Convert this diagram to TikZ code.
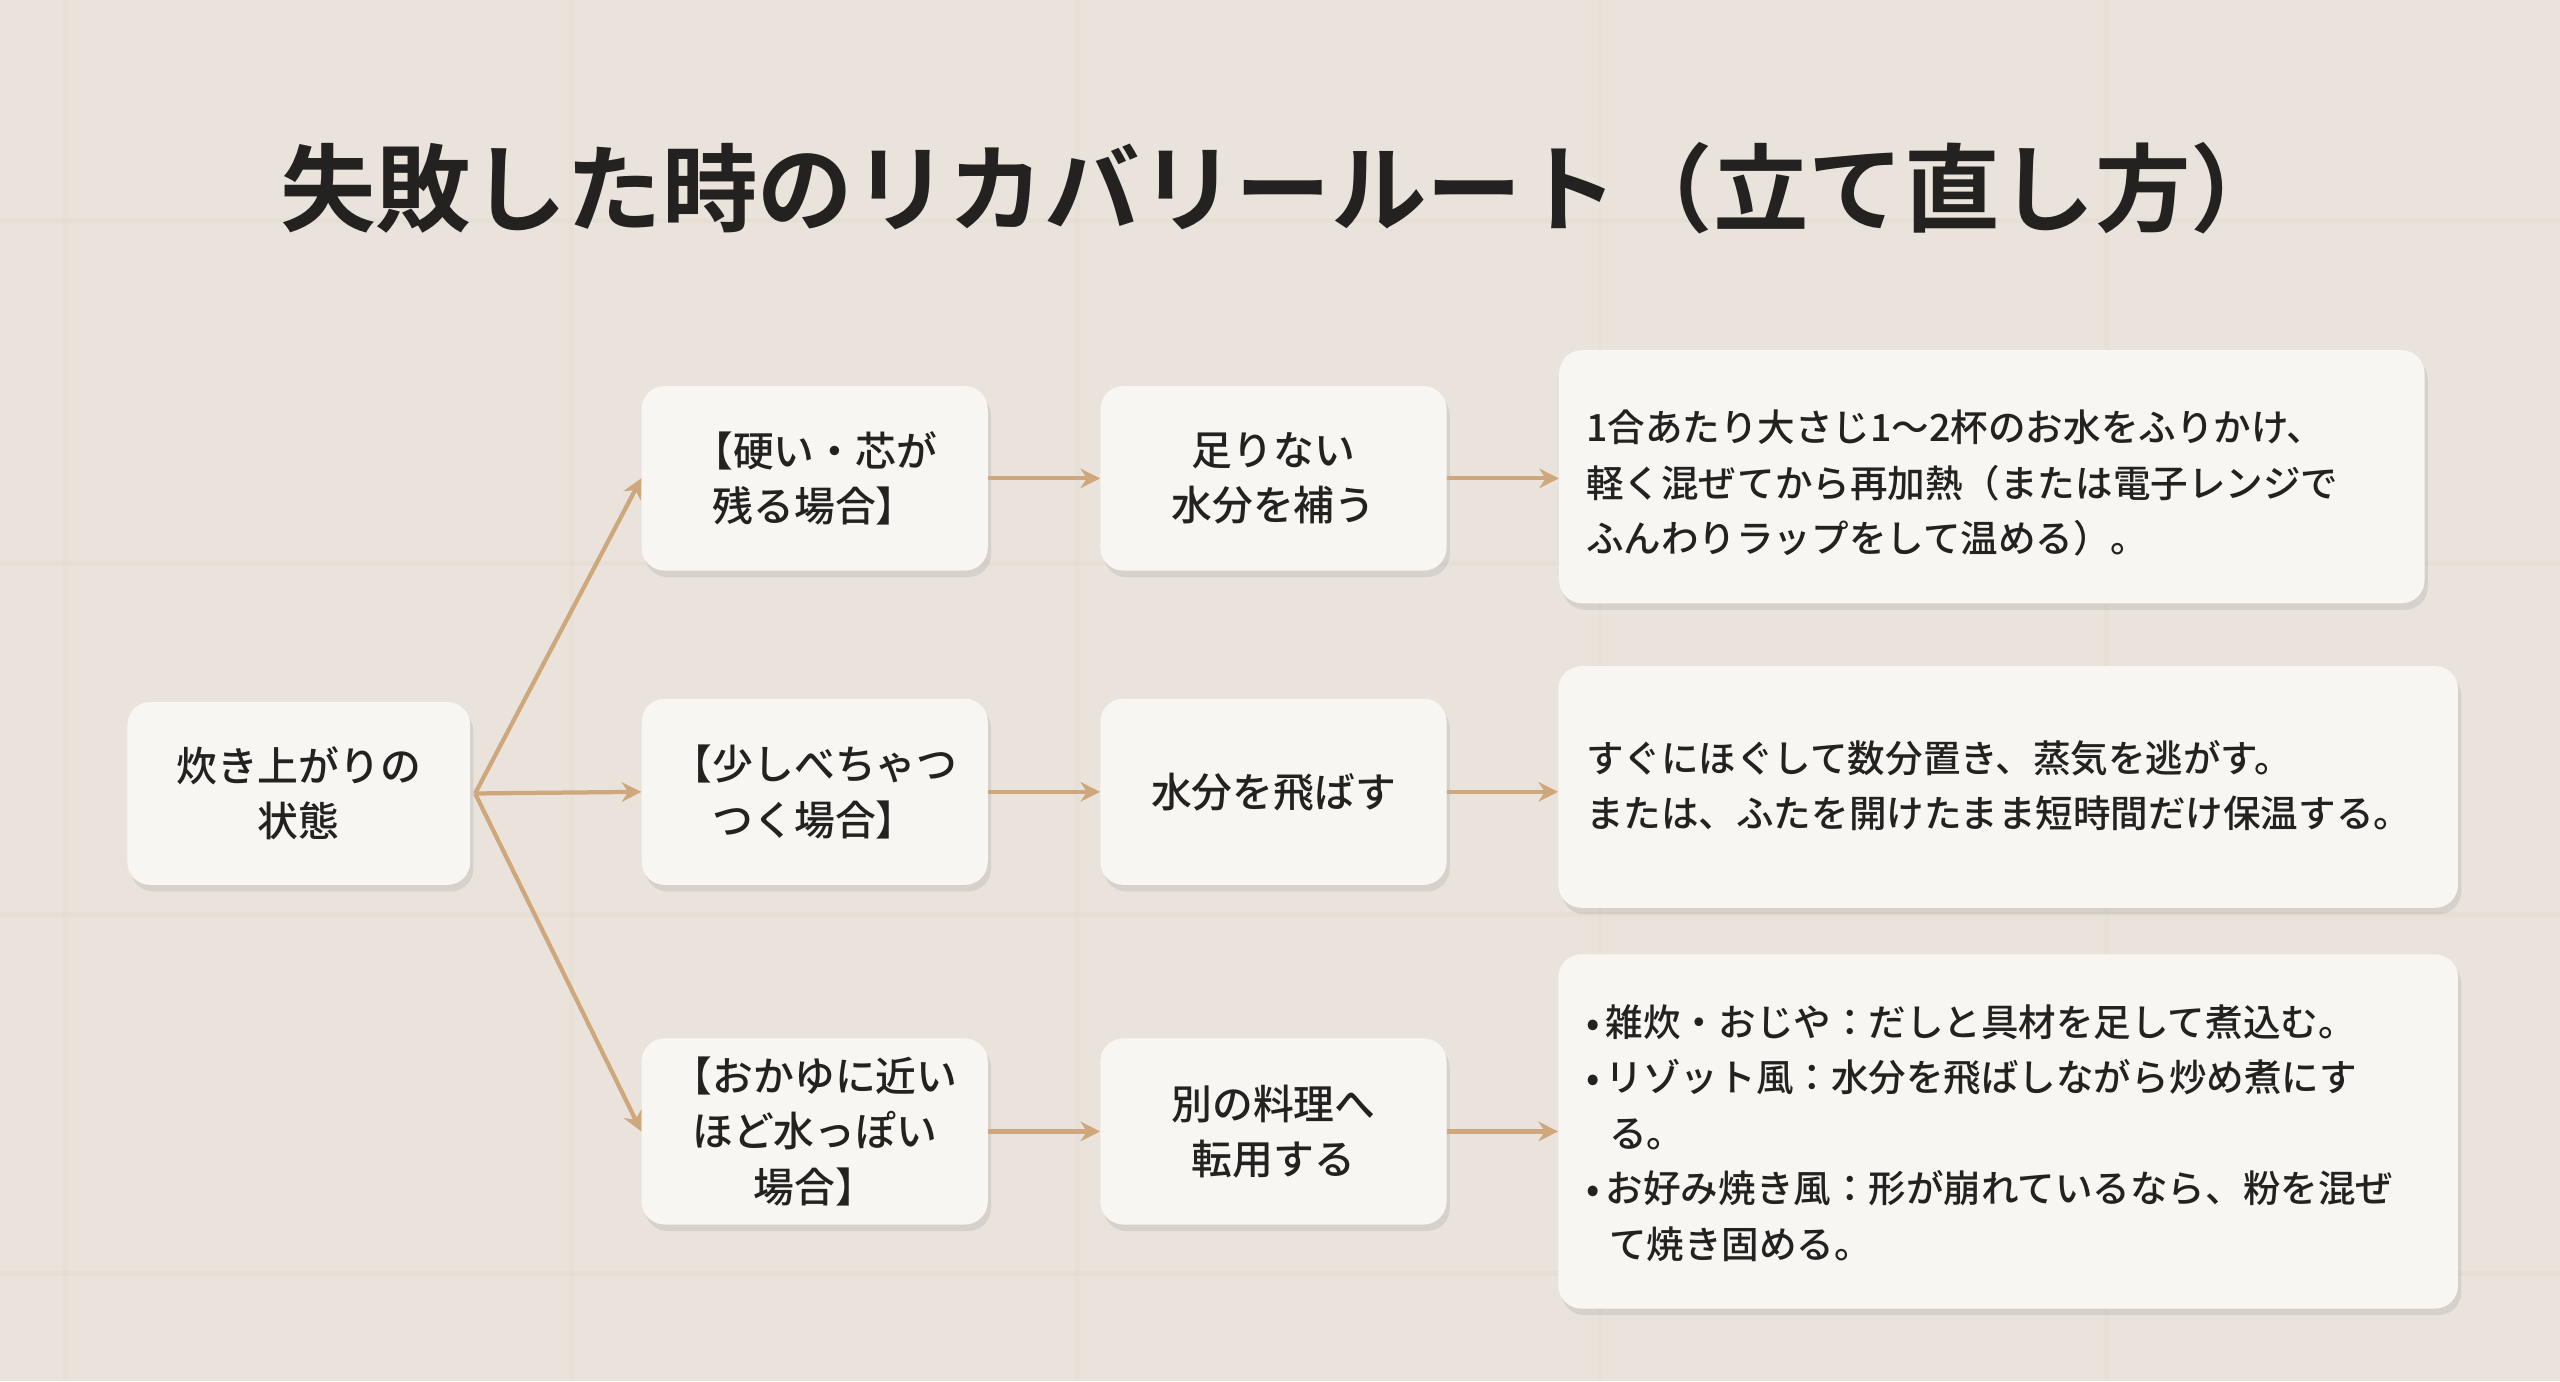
\documentclass[tikz,border=0pt]{standalone}
\usepackage{fontspec}
\setmainfont{Noto Sans CJK JP}[BoldFont={Noto Sans CJK JP Medium}]
\newfontfamily\ttl{Noto Sans CJK JP Bold}
\usetikzlibrary{shadows,arrows.meta}
\definecolor{bg}{HTML}{EAE3DB}
\definecolor{tile}{HTML}{DDD5CB}
\definecolor{boxf}{HTML}{F8F6F2}
\definecolor{arr}{HTML}{CFA77C}
\definecolor{txt}{HTML}{232221}
\begin{document}
\begin{tikzpicture}[x=1pt,y=-1pt,
  box/.style={draw=none,fill=boxf,rounded corners=14pt,drop shadow={shadow xshift=2pt,shadow yshift=-4pt,opacity=0.18},
    font=\fontsize{25}{34}\selectfont\bfseries,text=txt,align=center,inner sep=0pt},
  det/.style={font=\fontsize{23}{34}\selectfont\bfseries,text=txt,align=left,anchor=west},
  con/.style={draw=arr,line width=2.6pt,-{Stealth[length=12pt,width=12pt]}}]
\useasboundingbox (0,0) rectangle (1568,846);
\fill[bg] (0,0) rectangle (1568,846);
% faint tiles
\foreach \y in {135,345,560,780}{\draw[tile,line width=3pt,opacity=.25] (0,\y) -- (1568,\y);}
\foreach \x in {40,350,660,980,1290}{\draw[tile,line width=3pt,opacity=.2] (\x,0) -- (\x,846);}
\node[font=\fontsize{58.5}{62}\selectfont\ttl,text=txt] (title) at (786,115) {失敗した時のリカバリールート（立て直し方）};
\def\bx#1#2#3#4#5#6{\node[box,minimum width=#4pt,minimum height=#5pt] (#1) at (#2,#3) {#6};}
\bx{s}{183}{486}{210}{112}{炊き上がりの\\状態}
\bx{a1}{499}{293}{212}{113}{【硬い・芯が\\残る場合】}
\bx{a2}{499}{485}{212}{114}{【少しべちゃつ\\つく場合】}
\bx{a3}{499}{693}{212}{114}{【おかゆに近い\\ほど水っぽい\\場合】}
\bx{b1}{780}{293}{212}{113}{足りない\\水分を補う}
\bx{b2}{780}{485}{212}{114}{水分を飛ばす}
\bx{b3}{780}{693}{212}{114}{別の料理へ\\転用する}
\bx{c1}{1220}{292}{530}{155}{}
\bx{c2}{1230}{482}{551}{148}{}
\bx{c3}{1230}{693}{551}{217}{}
\node[det] at (968,296) {1合あたり大さじ1〜2杯のお水をふりかけ、\\軽く混ぜてから再加熱（または電子レンジで\\ふんわりラップをして温める）。};
\node[det] at (968,481) {すぐにほぐして数分置き、蒸気を逃がす。\\または、ふたを開けたまま短時間だけ保温する。};
\node[det] at (968,694) {•\,雑炊・おじや：だしと具材を足して煮込む。\\•\,リゾット風：水分を飛ばしながら炒め煮にす\\\hspace*{14pt}る。\\•\,お好み焼き風：形が崩れているなら、粉を混ぜ\\\hspace*{14pt}て焼き固める。};
\coordinate (o) at (291,486);
\draw[con] (o) -- (a1.west);
\draw[con] (o) -- (a2.west);
\draw[con] (o) -- (a3.west);
\foreach \i in {1,2,3}{
  \draw[con] (a\i.east) -- (b\i.west);
  \draw[con] (b\i.east) -- (b\i.east -| c\i.west);}
\end{tikzpicture}
\end{document}
